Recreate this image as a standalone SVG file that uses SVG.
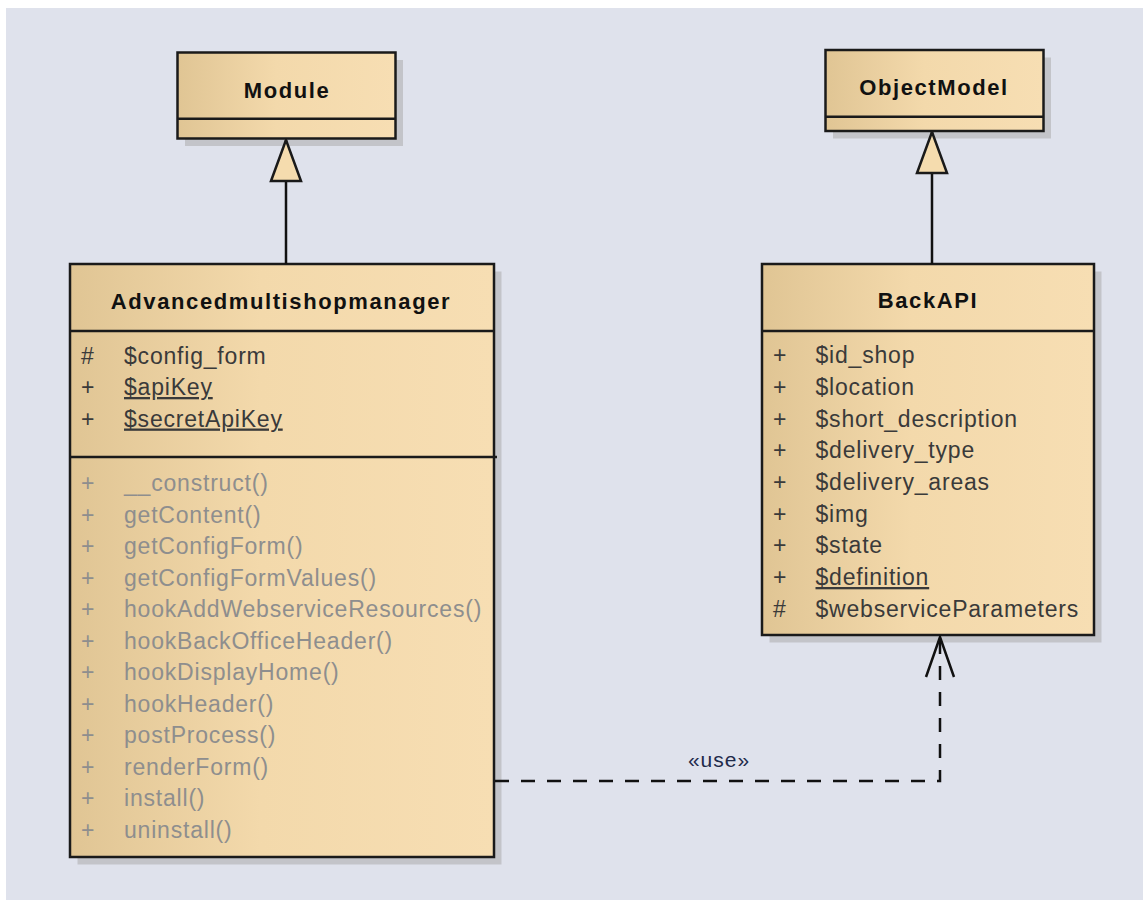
<svg xmlns="http://www.w3.org/2000/svg" width="1143" height="900" viewBox="0 0 1143 900">
  <defs>
    <linearGradient id="boxFill" x1="0" y1="0" x2="1" y2="0">
      <stop offset="0" stop-color="#e0c594"/>
      <stop offset="0.45" stop-color="#f3d9ab"/>
      <stop offset="1" stop-color="#f7deb3"/>
    </linearGradient>
    <marker id="genArrow" markerUnits="userSpaceOnUse" viewBox="-2 -2 45 34" markerWidth="45" markerHeight="34" refX="41" refY="15" orient="auto">
      <path d="M0,0 L41,15 L0,30 Z" fill="#f5dcae" stroke="#1a1a1a" stroke-width="2.5" stroke-linejoin="miter"/>
    </marker>
    <marker id="openArrow" markerUnits="userSpaceOnUse" viewBox="-2 -2 44 32" markerWidth="44" markerHeight="32" refX="40" refY="14" orient="auto">
      <path d="M0,0 L40,14 L0,28" fill="none" stroke="#111" stroke-width="2.5" stroke-dasharray="none"/>
    </marker>
  </defs>
  <style>
    .shadow { fill: #c3c4c9; }
    .box { fill: url(#boxFill); stroke: #1a1a1a; stroke-width: 2.5; }
    .div { stroke: #1a1a1a; stroke-width: 2.5; }
    .title { font-family: "Liberation Sans", Arial, sans-serif; font-weight: bold; font-size: 22px; letter-spacing: 1.6px; fill: #111; text-anchor: middle; }
    .attr { font-family: "Liberation Sans", Arial, sans-serif; font-size: 23px; letter-spacing: 0.8px; fill: #3a3a3a; }
    .meth { font-family: "Liberation Sans", Arial, sans-serif; font-size: 23px; letter-spacing: 0.8px; fill: #8e8e8e; }
    .ul { text-decoration: underline; }
    .conn { fill: none; stroke: #111; stroke-width: 2.5; }
    .dash { stroke-dasharray: 14 12; }
    .label { font-family: "Liberation Sans", Arial, sans-serif; font-size: 21px; letter-spacing: 1px; fill: #1e2a4a; text-anchor: middle; }
  </style>

  <rect x="0" y="0" width="1143" height="900" fill="#ffffff"/>
  <rect x="6" y="8" width="1137" height="892" fill="#dfe2ec"/>

  <g id="Module">
    <rect class="shadow" x="185" y="60" width="218" height="86"/>
    <rect class="box" x="177.5" y="52.5" width="218" height="86"/>
    <line class="div" x1="177.5" y1="118.7" x2="395.5" y2="118.7"/>
    <text class="title" x="287" y="98.3">Module</text>
  </g>

  <g id="ObjectModel">
    <rect class="shadow" x="833" y="57.5" width="218" height="81"/>
    <rect class="box" x="825.5" y="50" width="218" height="81"/>
    <line class="div" x1="825.5" y1="116.7" x2="1043.5" y2="116.7"/>
    <text class="title" x="934" y="95">ObjectModel</text>
  </g>

  <g id="Advancedmultishopmanager">
    <rect class="shadow" x="77.5" y="271.5" width="424" height="593"/>
    <rect class="box" x="70" y="264" width="424" height="593"/>
    <line class="div" x1="70" y1="331" x2="494" y2="331"/>
    <line class="div" x1="70" y1="457" x2="497" y2="457"/>
    <text class="title" x="281" y="309.3">Advancedmultishopmanager</text>
    <text class="attr" x="81" y="363.5">#</text>
    <text class="attr" x="124" y="363.5">$config_form</text>
    <text class="attr" x="81" y="395">+</text>
    <text class="attr ul" x="124" y="395">$apiKey</text>
    <text class="attr" x="81" y="426.5">+</text>
    <text class="attr ul" x="124" y="426.5">$secretApiKey</text>
    <text class="meth" x="81" y="491.3">+</text>
    <text class="meth" x="124" y="491.3">__construct()</text>
    <text class="meth" x="81" y="522.8">+</text>
    <text class="meth" x="124" y="522.8">getContent()</text>
    <text class="meth" x="81" y="554.3">+</text>
    <text class="meth" x="124" y="554.3">getConfigForm()</text>
    <text class="meth" x="81" y="585.8">+</text>
    <text class="meth" x="124" y="585.8">getConfigFormValues()</text>
    <text class="meth" x="81" y="617.3">+</text>
    <text class="meth" x="124" y="617.3">hookAddWebserviceResources()</text>
    <text class="meth" x="81" y="649">+</text>
    <text class="meth" x="124" y="649">hookBackOfficeHeader()</text>
    <text class="meth" x="81" y="680.3">+</text>
    <text class="meth" x="124" y="680.3">hookDisplayHome()</text>
    <text class="meth" x="81" y="711.5">+</text>
    <text class="meth" x="124" y="711.5">hookHeader()</text>
    <text class="meth" x="81" y="743">+</text>
    <text class="meth" x="124" y="743">postProcess()</text>
    <text class="meth" x="81" y="774.5">+</text>
    <text class="meth" x="124" y="774.5">renderForm()</text>
    <text class="meth" x="81" y="806">+</text>
    <text class="meth" x="124" y="806">install()</text>
    <text class="meth" x="81" y="837.5">+</text>
    <text class="meth" x="124" y="837.5">uninstall()</text>
  </g>

  <g id="BackAPI">
    <rect class="shadow" x="769.5" y="271.5" width="332" height="371"/>
    <rect class="box" x="762" y="264" width="332" height="371"/>
    <line class="div" x1="762" y1="331" x2="1094" y2="331"/>
    <text class="title" x="928" y="308.3">BackAPI</text>
    <text class="attr" x="773" y="363.3">+</text>
    <text class="attr" x="815.5" y="363.3">$id_shop</text>
    <text class="attr" x="773" y="395">+</text>
    <text class="attr" x="815.5" y="395">$location</text>
    <text class="attr" x="773" y="426.7">+</text>
    <text class="attr" x="815.5" y="426.7">$short_description</text>
    <text class="attr" x="773" y="458.3">+</text>
    <text class="attr" x="815.5" y="458.3">$delivery_type</text>
    <text class="attr" x="773" y="490">+</text>
    <text class="attr" x="815.5" y="490">$delivery_areas</text>
    <text class="attr" x="773" y="521.7">+</text>
    <text class="attr" x="815.5" y="521.7">$img</text>
    <text class="attr" x="773" y="553.3">+</text>
    <text class="attr" x="815.5" y="553.3">$state</text>
    <text class="attr" x="773" y="585">+</text>
    <text class="attr ul" x="815.5" y="585">$definition</text>
    <text class="attr" x="773" y="616.7">#</text>
    <text class="attr" x="815.5" y="616.7">$webserviceParameters</text>
  </g>

  <g id="connectors">
    <path class="conn" d="M286,264 V140" marker-end="url(#genArrow)"/>
    <path class="conn" d="M932,264 V132" marker-end="url(#genArrow)"/>
    <path class="conn dash" d="M495,781 H940 V637" marker-end="url(#openArrow)"/>
    <text class="label" x="719" y="767">«use»</text>
  </g>
</svg>
